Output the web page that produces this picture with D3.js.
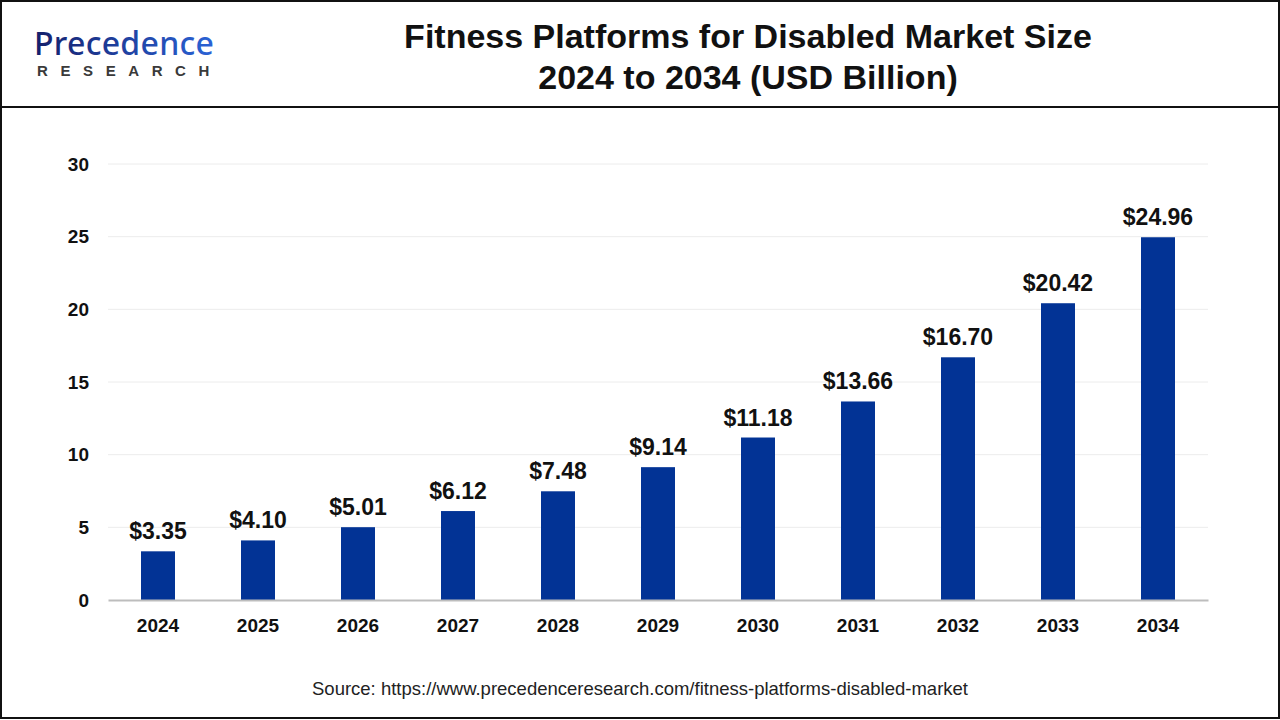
<!DOCTYPE html>
<html>
<head>
<meta charset="utf-8">
<script src="https://cdn.jsdelivr.net/npm/d3@7"></script>
<style>
  body { margin: 0; background: #fff; }
  svg { display: block; font-family: "Liberation Sans", Arial, sans-serif; }
</style>
</head>
<body>
<svg id="chart" width="1280" height="720"></svg>
<script>
const years = ["2024", "2025", "2026", "2027", "2028", "2029", "2030", "2031", "2032", "2033", "2034"];
const values = [3.35, 4.10, 5.01, 6.12, 7.48, 9.14, 11.18, 13.66, 16.70, 20.42, 24.96];
const yTicks = [0, 5, 10, 15, 20, 25, 30];

const svg = d3.select("#chart");
const W = 1280, H = 720;
const margin = { left: 108, right: 72, top: 164, bottom: 120 };

// frame
svg.append("rect")
    .attr("x", 1).attr("y", 1)
    .attr("width", W - 2).attr("height", H - 3)
    .attr("fill", "none")
    .attr("stroke", "#111")
    .attr("stroke-width", 2);

svg.append("line")
    .attr("x1", 0).attr("x2", W)
    .attr("y1", 107).attr("y2", 107)
    .attr("stroke", "#111")
    .attr("stroke-width", 2);

// logo
const logo = svg.append("g");
const grad = svg.append("defs").append("linearGradient")
    .attr("id", "logoGrad").attr("x1", "0").attr("x2", "1");
grad.append("stop").attr("offset", "0").attr("stop-color", "#14206b");
grad.append("stop").attr("offset", "1").attr("stop-color", "#2a63d6");

logo.append("text")
    .attr("x", 34).attr("y", 55)
    .attr("fill", "url(#logoGrad)")
    .style("font-family", "'Noto Sans', sans-serif")
    .style("font-size", "32px")
    .style("font-weight", 500)
    .style("letter-spacing", "0.3px")
    .text("Precedence");

logo.append("text")
    .attr("x", 37).attr("y", 76)
    .attr("fill", "#3a3a3a")
    .style("font-size", "15px")
    .style("font-weight", 700)
    .style("letter-spacing", "12.6px")
    .text("RESEARCH");

// title
const title = svg.append("text")
    .attr("text-anchor", "middle")
    .style("font-size", "34px")
    .style("font-weight", 700)
    .attr("fill", "#111");
title.append("tspan").attr("x", 748).attr("y", 48).text("Fitness Platforms for Disabled Market Size");
title.append("tspan").attr("x", 748).attr("y", 89).text("2024 to 2034 (USD Billion)");

// scales
const x = d3.scaleBand()
    .domain(years)
    .range([margin.left, W - margin.right])
    .paddingInner(0.66)
    .paddingOuter(0.33);

const y = d3.scaleLinear()
    .domain([0, 30])
    .range([H - margin.bottom, margin.top]);

// grid
svg.append("g")
    .selectAll("line")
    .data(yTicks.filter(d => d > 0))
    .enter()
    .append("line")
    .attr("x1", margin.left).attr("x2", W - margin.right)
    .attr("y1", d => y(d)).attr("y2", d => y(d))
    .attr("stroke", "#ececec")
    .attr("stroke-width", 1);

// y axis
const yAxis = svg.append("g")
    .attr("transform", `translate(${margin.left},0)`)
    .call(d3.axisLeft(y).tickValues(yTicks).tickSize(0).tickPadding(19));
yAxis.select(".domain").remove();
yAxis.selectAll("text")
    .style("font-size", "19px")
    .style("font-weight", 700)
    .attr("fill", "#111");

// bars
svg.append("g")
    .selectAll("rect")
    .data(values)
    .enter()
    .append("rect")
    .attr("x", (d, i) => x(years[i]))
    .attr("y", d => y(d))
    .attr("width", x.bandwidth())
    .attr("height", d => y(0) - y(d))
    .attr("fill", "#023395");

// value labels
svg.append("g")
    .selectAll("text")
    .data(values)
    .enter()
    .append("text")
    .attr("x", (d, i) => x(years[i]) + x.bandwidth() / 2)
    .attr("y", d => y(d) - 12)
    .attr("text-anchor", "middle")
    .style("font-size", "23px")
    .style("font-weight", 700)
    .attr("fill", "#111")
    .text(d => "$" + d.toFixed(2));

// x axis
const xAxis = svg.append("g")
    .attr("transform", `translate(0,${y(0)})`)
    .call(d3.axisBottom(x).tickSize(0).tickPadding(19));
xAxis.select(".domain")
    .attr("stroke", "#bdbdbd")
    .attr("stroke-width", 2);
xAxis.selectAll("text")
    .style("font-size", "19px")
    .style("font-weight", 700)
    .attr("fill", "#111");

// source
svg.append("text")
    .attr("x", 640).attr("y", 695)
    .attr("text-anchor", "middle")
    .style("font-size", "18.5px")
    .attr("fill", "#222")
    .text("Source: https://www.precedenceresearch.com/fitness-platforms-disabled-market");
</script>
</body>
</html>
